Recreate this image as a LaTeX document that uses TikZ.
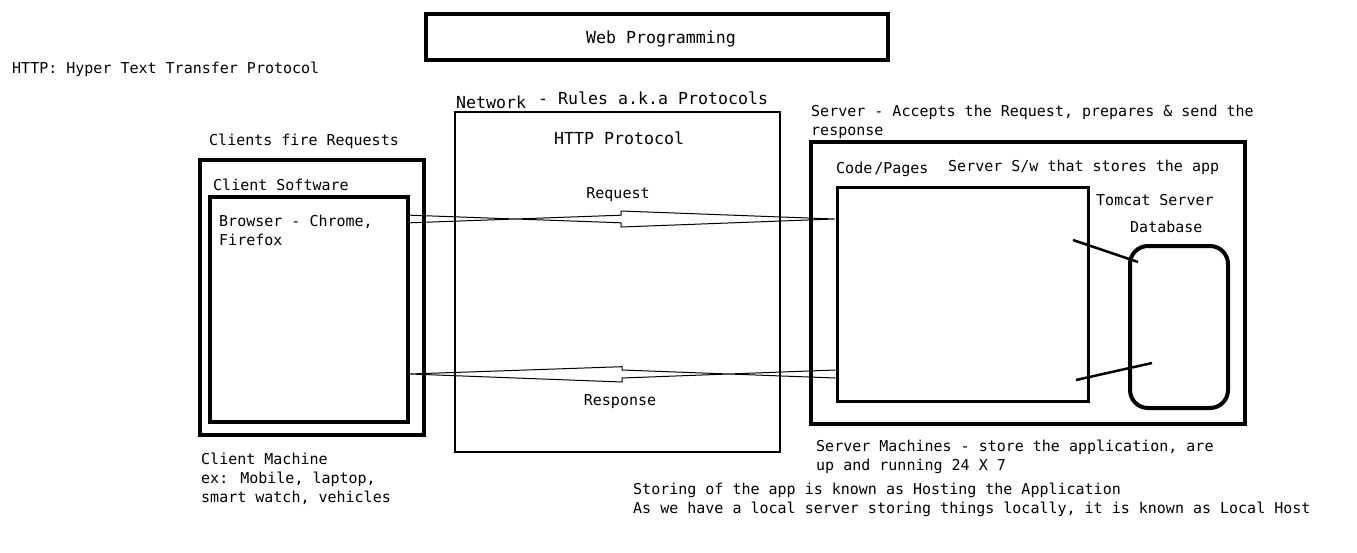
\documentclass[tikz,border=0pt]{standalone}
\usepackage{fontspec}
\setmainfont{DejaVu Sans Mono}
\begin{document}
\begin{tikzpicture}[x=1pt,y=-1pt,
  box/.style={draw, line width=4pt, inner sep=0pt},
  thinbox/.style={draw, line width=2pt, inner sep=0pt},
  lbl/.style={font=\fontsize{15}{19}\selectfont, anchor=west, inner sep=0pt, align=left, yshift=-1.5pt},
  big/.style={font=\fontsize{16.6}{20}\selectfont, inner sep=0pt, yshift=-1.5pt},
  flow/.style={line width=1pt},
  link/.style={line width=2.5pt}]
\useasboundingbox[fill=white] (0,0) rectangle (1357,552);

% boxes
\node[box, minimum width=462pt, minimum height=46pt] (title) at (657,37) {};
\node[big] (titletext) at (661,37) {Web Programming};
\node[box, minimum width=224pt, minimum height=275pt] (client) at (312,297.5) {};
\node[box, minimum width=198pt, minimum height=225pt] (browser) at (309,309.5) {};
\node[thinbox, minimum width=325pt, minimum height=340pt] (network) at (617.5,282) {};
\node[box, minimum width=434pt, minimum height=282pt] (server) at (1028,283) {};
\node[draw, line width=3pt, inner sep=0pt, minimum width=251pt, minimum height=214pt] (code) at (962.5,294) {};
\node[box, rounded corners=18pt, minimum width=98pt, minimum height=162pt] (db) at (1179,327) {};

% labels
\node[lbl] (http) at (12,68) {HTTP: Hyper Text Transfer Protocol};
\node[lbl, font=\fontsize{16.6}{20}\selectfont] (netw) at (456,101) {Network};
\node[big, anchor=west] (rules) at (538,97) {- Rules a.k.a Protocols};
\node[big, anchor=west] (httpp) at (554,137) {HTTP Protocol};
\node[lbl] (fire) at (209,140) {Clients fire Requests};
\node[lbl] (csw) at (213,183) {Client Software};
\node[lbl] (brw) at (219,228.5) {Browser - Chrome,\\Firefox};
\node[lbl, anchor=center] (req) at (618,193) {Request};
\node[lbl, anchor=center] (resp) at (620,400) {Response};
\node[lbl] (srv) at (811,120.5) {Server - Accepts the Request, prepares \& send the\\response};
\node[lbl] (codep) at (836,168) {Code\hspace{2pt}/Pages};
\node[lbl] (ssw) at (948,166) {Server S/w that stores the app};
\node[lbl] (tomcat) at (1096,199) {Tomcat Server};
\node[lbl] (dbl) at (1130,225) {Database};
\node[lbl] (cm) at (201,477) {Client Machine\\ex: Mobile, laptop,\\smart watch, vehicles};
\node[lbl] (sm) at (816,455.5) {Server Machines - store the application, are\\up and running 24 X 7};
\node[lbl] (host) at (633,498.5) {Storing of the app is known as Hosting the Application\\As we have a local server storing things locally, it is known as Local Host};

% request arrow
\coordinate (reqs) at (browser.east |- 0,219);
\coordinate (reqe) at (code.west |- 0,219);
\draw[flow] ([yshift=-3.8pt]reqs) -- (621,215.2) -- (621,211) -- ([xshift=-1pt]reqe) -- (621,227) -- (621,222.8) -- ([yshift=3.8pt]reqs);

% response arrow
\coordinate (rss) at (code.west |- 0,374);
\coordinate (rse) at (browser.east |- 0,374);
\draw[flow] ([yshift=-4pt]rss) -- (622,370) -- (622,366.7) -- (rse) -- (622,382) -- (622,378) -- ([yshift=4pt]rss);

% code to database links
\coordinate (l1a) at (1073,240);
\coordinate (l1b) at (1138,262);
\coordinate (l2a) at (1076,380);
\coordinate (l2b) at (1152,363);
\draw[link] (l1a) -- (l1b);
\draw[link] (l2a) -- (l2b);
\end{tikzpicture}
\end{document}
